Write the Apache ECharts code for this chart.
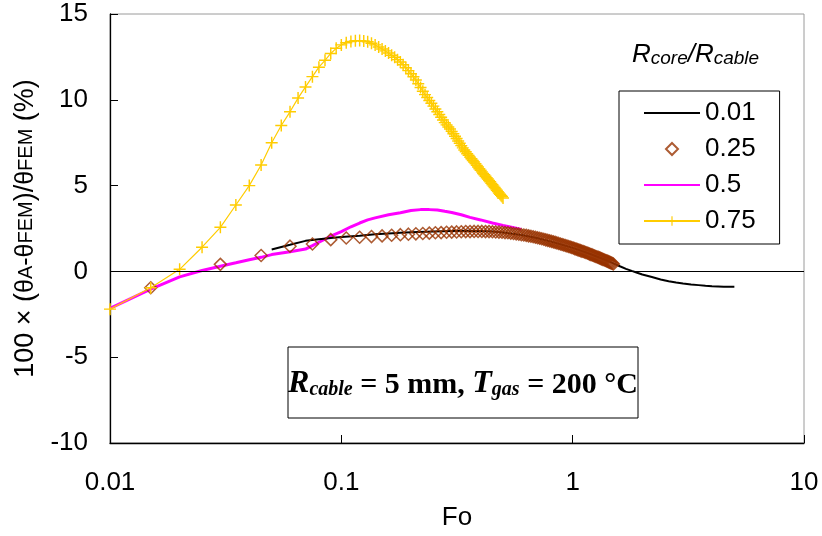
<!DOCTYPE html>
<html>
<head>
<meta charset="utf-8">
<script src="https://cdn.jsdelivr.net/npm/echarts@6/dist/echarts.min.js"></script>
<style>
html,body{margin:0;padding:0;background:#fff;}
#chart{width:822px;height:536px;}
</style>
</head>
<body>
<div id="chart"></div>
<script>
// ---- data ----
const xTicks = [0.01, 0.1, 1, 10];
const yTicks = [-10, -5, 0, 5, 10, 15];
const seriesNames = ['0.01', '0.25', '0.5', '0.75'];

// R_core/R_cable = 0.01 (black line)
const fo001 = [0.05,0.06,0.07,0.08,0.09,0.1,0.12,0.14,0.16,0.18,0.2,0.25,0.3,0.35,0.4,0.45,0.5,0.6,0.7,0.8,0.9,1.0,1.1,1.2,1.3,1.4,1.5,1.6,1.7,1.8,1.9,2.0,2.2,2.4,2.6,2.8,3.0,3.25,3.5,3.75,4.0,4.25,4.5,4.75,5.0];
const err001 = [1.28,1.55,1.78,1.88,1.95,2.0,2.08,2.16,2.21,2.25,2.28,2.33,2.36,2.37,2.36,2.32,2.27,2.12,1.95,1.75,1.55,1.37,1.18,1.0,0.82,0.65,0.47,0.3,0.15,0.03,-0.08,-0.18,-0.33,-0.47,-0.57,-0.65,-0.71,-0.76,-0.8,-0.84,-0.87,-0.88,-0.89,-0.9,-0.9];

// R_core/R_cable = 0.25 (brown diamonds)
const fo025 = [0.015,0.03,0.045,0.06,0.075,0.09,0.105,0.12,0.135,0.15,0.165,0.18,0.195,0.21,0.225,0.24,0.255,0.27,0.285,0.3,0.315,0.33,0.345,0.36,0.375,0.39,0.405,0.42,0.435,0.45,0.465,0.48,0.495,0.51,0.525,0.54,0.555,0.57,0.585,0.6,0.615,0.63,0.645,0.66,0.675,0.69,0.705,0.72,0.735,0.75,0.765,0.78,0.795,0.81,0.825,0.84,0.855,0.87,0.885,0.9,0.915,0.93,0.945,0.96,0.975,0.99,1.005,1.02,1.035,1.05,1.065,1.08,1.095,1.11,1.125,1.14,1.155,1.17,1.185,1.2,1.215,1.23,1.245,1.26,1.275,1.29,1.305,1.32,1.335,1.35,1.365,1.38,1.395,1.41,1.425,1.44,1.455,1.47,1.485,1.5];
const err025 = [-0.95,0.41,0.93,1.47,1.60,1.85,1.95,1.99,2.03,2.07,2.11,2.14,2.17,2.19,2.21,2.23,2.25,2.26,2.28,2.29,2.30,2.31,2.32,2.32,2.33,2.33,2.33,2.32,2.32,2.31,2.30,2.29,2.28,2.26,2.25,2.23,2.21,2.19,2.17,2.14,2.12,2.10,2.07,2.05,2.02,1.99,1.96,1.93,1.90,1.87,1.84,1.81,1.78,1.75,1.72,1.69,1.66,1.63,1.60,1.57,1.54,1.51,1.48,1.45,1.42,1.39,1.36,1.33,1.30,1.27,1.24,1.21,1.18,1.16,1.13,1.10,1.07,1.04,1.01,0.98,0.96,0.93,0.90,0.87,0.84,0.82,0.79,0.76,0.73,0.70,0.68,0.65,0.62,0.60,0.57,0.54,0.51,0.49,0.46,0.43];

// R_core/R_cable = 0.5 (magenta line)
const fo05 = [0.01,0.015,0.02,0.025,0.03,0.035,0.04,0.045,0.05,0.06,0.07,0.075,0.08,0.09,0.1,0.11,0.12,0.13,0.14,0.16,0.18,0.2,0.22,0.24,0.26,0.28,0.3,0.33,0.36,0.4,0.45,0.5,0.55,0.6];
const err05 = [-2.15,-1.03,-0.32,0.05,0.3,0.5,0.68,0.82,0.98,1.15,1.3,1.5,1.7,2.05,2.32,2.6,2.82,3.0,3.12,3.3,3.42,3.55,3.6,3.6,3.58,3.5,3.43,3.3,3.15,3.0,2.82,2.68,2.56,2.45];

// R_core/R_cable = 0.75 (yellow line with +)
const fo075 = [0.01,0.015,0.02,0.025,0.03,0.035,0.04,0.045,0.05,0.055,0.06,0.065,0.07,0.075,0.08,0.085,0.09,0.095,0.1,0.105,0.11,0.115,0.12,0.125,0.13,0.135,0.14,0.145,0.15,0.155,0.16,0.165,0.17,0.175,0.18,0.185,0.19,0.195,0.2,0.205,0.21,0.215,0.22,0.225,0.23,0.235,0.24,0.245,0.25,0.255,0.26,0.265,0.27,0.275,0.28,0.285,0.29,0.295,0.3,0.305,0.31,0.315,0.32,0.325,0.33,0.335,0.34,0.345,0.35,0.355,0.36,0.365,0.37,0.375,0.38,0.385,0.39,0.395,0.4,0.405,0.41,0.415,0.42,0.425,0.43,0.435,0.44,0.445,0.45,0.455,0.46,0.465,0.47,0.475,0.48,0.485,0.49,0.495,0.5];
const err075 = [-2.2,-0.95,0.12,1.41,2.57,3.87,5.0,6.2,7.5,8.5,9.3,10.1,10.75,11.35,11.9,12.3,12.7,13.0,13.2,13.32,13.4,13.44,13.45,13.43,13.38,13.3,13.2,13.08,12.96,12.85,12.73,12.6,12.48,12.34,12.2,12.04,11.87,11.7,11.52,11.34,11.15,10.94,10.72,10.5,10.3,10.13,9.96,9.8,9.63,9.46,9.3,9.14,8.98,8.82,8.67,8.54,8.42,8.3,8.16,8.02,7.88,7.74,7.6,7.47,7.33,7.2,7.08,6.97,6.86,6.76,6.66,6.56,6.46,6.37,6.28,6.18,6.08,5.98,5.89,5.8,5.71,5.63,5.54,5.46,5.38,5.3,5.22,5.13,5.05,4.97,4.89,4.81,4.73,4.65,4.57,4.5,4.43,4.36,4.28];

function zip(xs, ys) { return xs.map((x, i) => [x, ys[i]]); }

const FONT = '"Liberation Sans", Arial, sans-serif';
const SERIF = '"Liberation Serif", "Times New Roman", serif';
const plusPath = 'path://M4.4,0H5.6V4.4H10V5.6H5.6V10H4.4V5.6H0V4.4H4.4Z';
const diamondPath = 'path://M5,0L10,5L5,10L0,5Z';

const chart = echarts.init(document.getElementById('chart'), null, {renderer: 'canvas'});
const option = {
  animation: false,
  backgroundColor: '#fff',
  grid: {left: 110, top: 14, right: 18, bottom: 89, show: true, borderColor: '#9a9a9a', borderWidth: 1, backgroundColor: 'transparent'},
  xAxis: {
    type: 'log', logBase: 10, min: xTicks[0], max: xTicks[xTicks.length - 1],
    name: 'Fo', nameLocation: 'middle', nameGap: 62,
    nameTextStyle: {fontFamily: FONT, fontSize: 26, color: '#000'},
    axisLine: {show: true, onZero: false, lineStyle: {color: '#000', width: 1.3}},
    axisTick: {show: true, inside: true, length: 8, lineStyle: {color: '#000', width: 1}},
    minorTick: {show: false},
    splitLine: {show: false},
    axisLabel: {
      fontFamily: FONT, fontSize: 26, color: '#000', margin: 27,
      formatter: function (v) {
        for (const t of xTicks) { if (Math.abs(Math.log10(v) - Math.log10(t)) < 1e-6) return String(t); }
        return '';
      }
    }
  },
  yAxis: {
    type: 'value', min: yTicks[0], max: yTicks[yTicks.length - 1], interval: 5,
    name: '{a|100 × (}{b|θ}{c|A}{b|-θ}{c|FEM}{a|)/}{b|θ}{c|FEM}{a| (%)}',
    nameLocation: 'middle', nameGap: 68, nameRotate: 90,
    nameTextStyle: {
      fontFamily: FONT, color: '#000',
      rich: {
        a: {fontFamily: FONT, fontSize: 27, color: '#000'},
        b: {fontFamily: FONT, fontSize: 25, color: '#000'},
        c: {fontFamily: FONT, fontSize: 20, color: '#000'}
      }
    },
    axisLine: {show: true, onZero: false, lineStyle: {color: '#000', width: 1.3}},
    axisTick: {show: true, inside: true, length: 8, lineStyle: {color: '#000', width: 1}},
    splitLine: {show: false},
    axisLabel: {fontFamily: FONT, fontSize: 26, color: '#000', margin: 22}
  },
  legend: {
    data: [
      {name: seriesNames[0], itemStyle: {opacity: 0}},
      {name: seriesNames[1], icon: diamondPath},
      {name: seriesNames[2], itemStyle: {opacity: 0}},
      {name: seriesNames[3]}
    ],
    orient: 'vertical', left: 619, top: 91,
    padding: [9, 24, 10, 24],
    borderColor: '#000', borderWidth: 1,
    itemWidth: 56, itemHeight: 12, itemGap: 10,
    symbolKeepAspect: true,
    textStyle: {fontFamily: FONT, fontSize: 26, color: '#000', lineHeight: 26}
  },
  series: [
    {
      name: seriesNames[2], type: 'line', data: zip(fo05, err05),
      symbol: 'none', lineStyle: {color: '#FF00FF', width: 3}, itemStyle: {color: '#FF00FF'}, z: 2
    },
    {
      name: seriesNames[0], type: 'line', data: zip(fo001, err001),
      symbol: 'none', lineStyle: {color: '#000', width: 2}, itemStyle: {color: '#000'}, z: 2,
      markLine: {
        silent: true, symbol: ['none', 'none'], label: {show: false},
        lineStyle: {color: '#000', width: 1, type: 'solid'},
        data: [{yAxis: 0}]
      }
    },
    {
      name: seriesNames[1], type: 'scatter', data: zip(fo025, err025),
      symbol: 'diamond', symbolSize: 12,
      itemStyle: {color: 'rgba(255,255,255,0)', borderColor: '#993300', borderWidth: 1.5}, z: 3
    },
    {
      name: seriesNames[3], type: 'line', data: zip(fo075, err075),
      symbol: plusPath, symbolSize: 12, showSymbol: true,
      lineStyle: {color: '#FFCC00', width: 1.2}, itemStyle: {color: '#FFCC00'}, z: 4
    }
  ],
  graphic: [
    {
      type: 'text', left: 632, top: 42,
      style: {
        text: '{R|R}{s|core}{R|/R}{s|cable}',
        rich: {
          R: {fontFamily: FONT, fontStyle: 'italic', fontSize: 26, fill: '#000', verticalAlign: 'bottom', lineHeight: 28},
          s: {fontFamily: FONT, fontStyle: 'italic', fontSize: 19, fill: '#000', verticalAlign: 'bottom', lineHeight: 12}
        }
      }
    },
    {
      type: 'rect', shape: {x: 288, y: 347, width: 350, height: 71},
      style: {fill: 'none', stroke: '#000', lineWidth: 1}
    },
    {
      type: 'text', x: 463, y: 383,
      style: {
        text: '{I|R}{s|cable}{n| = 5 mm, }{I|T}{s|gas}{n| = 200 °C}',
        align: 'center', verticalAlign: 'middle',
        rich: {
          I: {fontFamily: SERIF, fontStyle: 'italic', fontWeight: 'bold', fontSize: 32, fill: '#000', verticalAlign: 'bottom', lineHeight: 34},
          s: {fontFamily: SERIF, fontStyle: 'italic', fontWeight: 'bold', fontSize: 20, fill: '#000', verticalAlign: 'bottom', lineHeight: 14},
          n: {fontFamily: SERIF, fontWeight: 'bold', fontSize: 30, fill: '#000', verticalAlign: 'bottom', lineHeight: 34}
        }
      }
    }
  ]
};
chart.setOption(option);
</script>
</body>
</html>
